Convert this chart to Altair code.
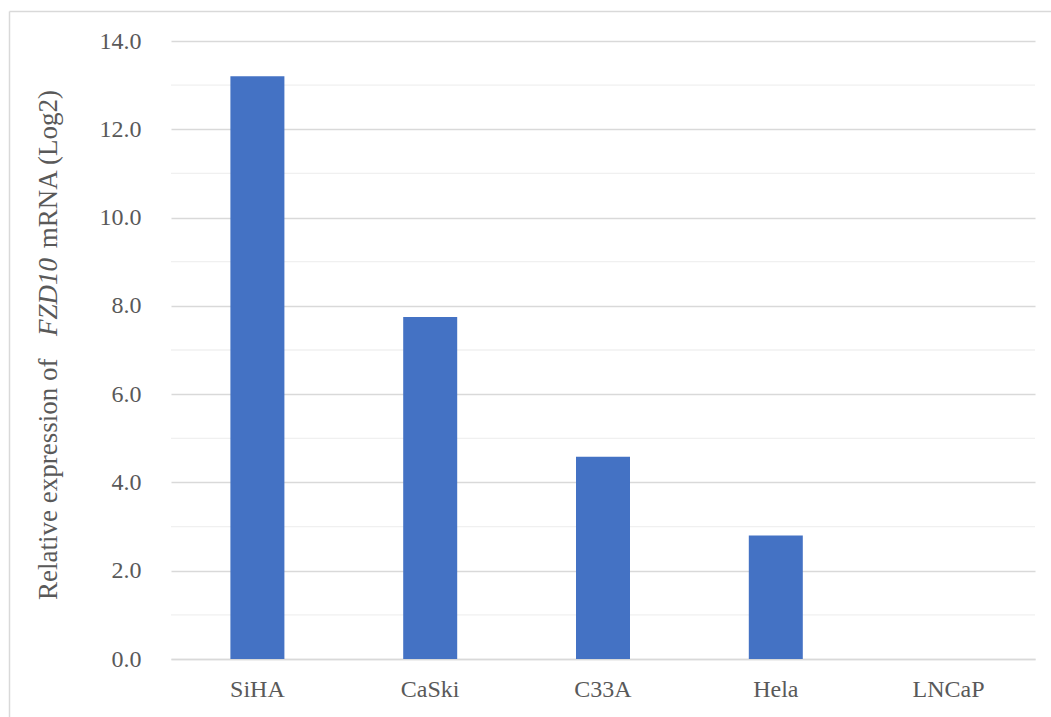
import altair as alt
import pandas as pd

# Cell lines and their relative FZD10 expression (log2)
cell_lines = ["SiHA", "CaSki", "C33A", "Hela", "LNCaP"]
expression = [13.2, 7.75, 4.58, 2.80, 0.0]

# Axis ticks: labelled every 2, faint lines in between
major_ticks = [0, 2, 4, 6, 8, 10, 12, 14]
minor_ticks = [1, 3, 5, 7, 9, 11, 13]

FONT = "Liberation Serif"
TEXT = "#595959"
BAR = "#4472C4"
GRID = "#d9d9d9"
MINOR = "#f0f0f0"

W, H = 864, 618

bars_df = pd.DataFrame({"line": cell_lines, "value": expression})
minor_df = pd.DataFrame({"v": minor_ticks})

y_scale = alt.Scale(domain=[0, 14], nice=False, zero=True)
y_axis = alt.Axis(
    title=None, values=major_ticks, format=".1f", domain=False,
    ticks=False, gridColor=GRID, gridWidth=1.3, labelFont=FONT,
    labelFontSize=24, labelColor=TEXT, labelPadding=30,
)

minor = alt.Chart(minor_df).mark_rule(color=MINOR, strokeWidth=1.3).encode(
    y=alt.Y("v:Q", scale=y_scale, axis=y_axis)
)

bars = alt.Chart(bars_df).mark_bar(color=BAR).encode(
    x=alt.X(
        "line:N",
        sort=cell_lines,
        scale=alt.Scale(paddingInner=0.6875, paddingOuter=0.34375),
        axis=alt.Axis(
            title=None, labelAngle=0, ticks=False, domainColor=GRID,
            domainWidth=1.3, labelFont=FONT, labelFontSize=24,
            labelColor=TEXT, labelPadding=18,
        ),
    ),
    y=alt.Y("value:Q", scale=y_scale, axis=y_axis),
)

# Y axis title in three runs so the gene symbol can be italic
title_x = -114
t1 = alt.Chart(bars_df.head(1)).mark_text(
    text="Relative expression of", angle=270, align="left",
    baseline="alphabetic", font=FONT, fontSize=27, color=TEXT,
).encode(x=alt.value(title_x), y=alt.value(559))
t2 = alt.Chart(bars_df.head(1)).mark_text(
    text="FZD10", angle=270, align="center", baseline="alphabetic",
    font=FONT, fontSize=27, fontStyle="italic", color=TEXT,
).encode(x=alt.value(title_x), y=alt.value(256))
t3 = alt.Chart(bars_df.head(1)).mark_text(
    text="mRNA (Log2)", angle=270, align="right", baseline="alphabetic",
    font=FONT, fontSize=27, color=TEXT,
).encode(x=alt.value(title_x), y=alt.value(49))

# Outer frame of the chart area (left and top edges)
frame_left = alt.Chart(bars_df.head(1)).mark_rule(color=GRID, strokeWidth=1.5).encode(
    x=alt.value(-161.5), y=alt.value(-29.5), y2=alt.value(H + 80)
)
frame_top = alt.Chart(bars_df.head(1)).mark_rule(color=GRID, strokeWidth=1.5).encode(
    x=alt.value(-161.5), x2=alt.value(W + 40), y=alt.value(-29.5)
)

chart = (
    alt.layer(minor, bars, t1, t2, t3, frame_left, frame_top)
    .properties(
        width=W,
        height=H,
        autosize=alt.AutoSizeParams(type="none"),
        padding={"left": 171, "top": 41, "right": 16, "bottom": 58},
        background="white",
    )
    .configure_view(stroke=None)
)

chart.save("out.html", embed_options={"renderer": "svg", "actions": False})
